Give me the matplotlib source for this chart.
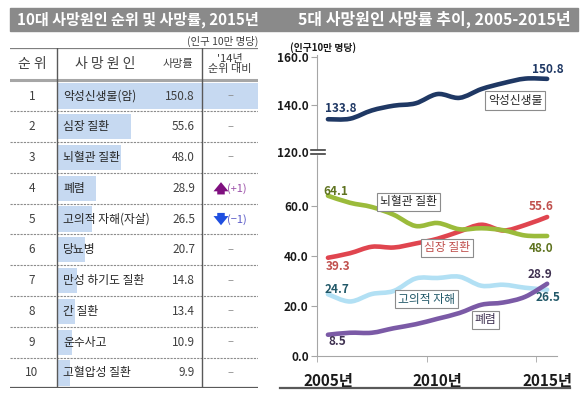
import numpy as np
import matplotlib
matplotlib.use('Agg')
import matplotlib.pyplot as plt
from matplotlib.patches import Rectangle, PathPatch
from matplotlib.path import Path

plt.rcParams['font.family'] = ['Noto Sans CJK KR', 'DejaVu Sans']

# 10대 사망원인 (2015년, 인구 10만 명당)
ranks = list(range(1, 11))
causes = ['악성신생물(암)', '심장 질환', '뇌혈관 질환', '폐렴', '고의적 자해(자살)',
          '당뇨병', '만성 하기도 질환', '간 질환', '운수사고', '고혈압성 질환']
rates_2015 = [150.8, 55.6, 48.0, 28.9, 26.5, 20.7, 14.8, 13.4, 10.9, 9.9]
rank_change = ['–', '–', '–', '(+1)', '(−1)', '–', '–', '–', '–', '–']

# 5대 사망원인 사망률 추이 (2005-2015)
years = list(range(2005, 2016))
cancer = [133.8, 134.0, 137.5, 139.5, 140.5, 144.4, 142.8, 146.5, 149.0, 150.9, 150.8]
heart = [39.3, 41.1, 43.7, 43.4, 45.0, 46.9, 49.8, 52.5, 50.2, 52.4, 55.6]
cerebro = [64.1, 61.3, 59.6, 56.5, 52.0, 53.2, 50.7, 51.1, 50.3, 48.2, 48.0]
suicide = [24.7, 21.8, 24.8, 26.0, 31.0, 31.2, 31.7, 28.1, 28.5, 27.3, 26.5]
pneumonia = [8.5, 9.3, 9.3, 11.1, 12.7, 14.9, 17.2, 20.5, 21.4, 23.7, 28.9]
year_labels = ['2005년', '2010년', '2015년']

W, H = 586, 401


def box(x0, y0, x1, y1):
    # 픽셀 좌표 -> figure 좌표
    return [x0 / W, 1 - y1 / H, (x1 - x0) / W, (y1 - y0) / H]


def smooth_path(xs, ys):
    # 엑셀 '부드러운 선' 흉내 (Catmull-Rom -> Bezier)
    pts = np.column_stack([xs, ys]).astype(float)
    ext = np.vstack([pts[0], pts, pts[-1]])
    verts = [pts[0]]
    codes = [Path.MOVETO]
    for i in range(len(pts) - 1):
        p0, p1, p2, p3 = ext[i], ext[i + 1], ext[i + 2], ext[i + 3]
        verts += [p1 + (p2 - p0) / 6, p2 - (p3 - p1) / 6, p2]
        codes += [Path.CURVE4] * 3
    return Path(verts, codes)


fig = plt.figure(figsize=(W / 100, H / 100), dpi=100)

# 제목 띠
fig.patches.append(Rectangle((10 / W, 1 - 31 / H), 568 / W, 23 / H,
                             transform=fig.transFigure, color='#8a8a8a', zorder=0))
fig.text(17 / W, 1 - 19.5 / H, '10대 사망원인 순위 및 사망률, 2015년', color='white',
         fontsize=10.9, fontweight='bold', va='center', ha='left')
fig.text(298 / W, 1 - 19.5 / H, '5대 사망원인 사망률 추이, 2005-2015년', color='white',
         fontsize=11.5, fontweight='bold', va='center', ha='left')

# ---------------- 왼쪽 표 ----------------
max_rate = max(rates_2015)


def col(px):
    return (px - 57) / (258 - 57) * max_rate


ax_t = fig.add_axes(box(10, 48, 258, 388))
ax_t.set_xlim(col(10), col(258))
ax_t.set_ylim(10.49, -0.56)
ax_t.axis('off')

ax_t.barh(ranks, rates_2015, left=0, height=0.82, color='#c6d9f1', zorder=1)

txt = '#404040'
ax_t.text(col(32), -0.04, '순 위', ha='center', va='center', fontsize=10, color=txt)
ax_t.text(col(105), -0.04, '사 망 원 인', ha='center', va='center', fontsize=10, color=txt)
ax_t.text(col(178), -0.04, '사망률', ha='center', va='center', fontsize=8, color=txt)
ax_t.text(col(230), -0.04, "'14년\n순위 대비", ha='center', va='center', fontsize=8,
          color=txt, linespacing=1.0)

arrow_style = 'simple,head_width=0.9,head_length=0.55,tail_width=0.45'
for r, c, v, ch in zip(ranks, causes, rates_2015, rank_change):
    ax_t.text(col(32), r, str(r), ha='center', va='center', fontsize=8.5, color=txt, zorder=3)
    ax_t.text(col(63), r, c, ha='left', va='center', fontsize=8.5, color='#262626', zorder=3)
    ax_t.text(col(195), r, f'{v:.1f}', ha='right', va='center', fontsize=8.5, color=txt, zorder=3)
    if ch == '(+1)':
        ax_t.annotate('', xy=(col(221), r - 0.2), xytext=(col(221), r + 0.2),
                      arrowprops=dict(arrowstyle=arrow_style, color='#7f0f7f', lw=0,
                                      mutation_scale=12, shrinkA=0, shrinkB=0))
        ax_t.text(col(227), r, ch, ha='left', va='center', fontsize=8, color='#9b4fa8')
    elif ch == '(−1)':
        ax_t.annotate('', xy=(col(221), r + 0.2), xytext=(col(221), r - 0.2),
                      arrowprops=dict(arrowstyle=arrow_style, color='#1f4fe0', lw=0,
                                      mutation_scale=12, shrinkA=0, shrinkB=0))
        ax_t.text(col(227), r, ch, ha='left', va='center', fontsize=8, color='#5a5ac8')
    else:
        ax_t.text(col(230), r, ch, ha='center', va='center', fontsize=8, color='#8c8c8c')

ax_t.axhline(-0.56, color='#7f7f7f', lw=1.6, zorder=4)
ax_t.axhline(0.48, color='#a6a6a6', lw=2.2, zorder=4)
for r in ranks[:-1]:
    ax_t.axhline(r + 0.5, color='#8c8c8c', lw=0.8, ls=(0, (2, 1)), zorder=4)
ax_t.axhline(10.49, color='#595959', lw=1.6, zorder=4)
ax_t.axvline(col(57), color='#595959', lw=1.0, zorder=4)
ax_t.axvline(col(202), color='#595959', lw=1.0, zorder=4)

fig.text(258 / W, 1 - 41 / H, '(인구 10만 명당)', ha='right', va='center', fontsize=7.5, color=txt)

# ---------------- 오른쪽 추이 그래프 ----------------
ax_hi = fig.add_axes(box(317, 55, 557, 152))
ax_lo = fig.add_axes(box(317, 152, 557, 356))
ax_hi.set_ylim(120, 120 + 97 / 2.375)
ax_lo.set_ylim(0, 204 / 2.5)
spine_c = '#a6a6a6'
for ax in (ax_hi, ax_lo):
    ax.set_xlim(2004.5, 2015.45)
    ax.set_facecolor('none')
    for s in ('top', 'right'):
        ax.spines[s].set_visible(False)
    ax.spines['left'].set_color(spine_c)
    ax.tick_params(axis='y', length=4, color=spine_c, pad=2, labelsize=8.5, labelcolor='#1a1a1a')
ax_hi.spines['bottom'].set_visible(False)
ax_hi.set_xticks([])
ax_lo.spines['bottom'].set_color(spine_c)

ax_hi.set_yticks([120, 140, 160])
ax_lo.set_yticks([0, 20, 40, 60])
for ax in (ax_hi, ax_lo):
    ax.set_yticklabels([f'{t:.1f}' for t in ax.get_yticks()], fontweight='bold')

ax_lo.set_xticks([2005, 2010, 2015])
ax_lo.set_xticklabels(year_labels, fontweight='bold')
ax_lo.tick_params(axis='x', which='major', length=0, pad=12, labelsize=11, labelcolor='#1a1a1a')
ax_lo.set_xticks([2004.5, 2009.5, 2014.5], minor=True)
ax_lo.tick_params(axis='x', which='minor', length=4, color=spine_c)

# (축, 값, 선 색, 라벨 색, [시작/끝 라벨 오프셋(px)])
series = [
    (ax_hi, cancer, '#1f3864', '#1f3864', [(13, 11), (1, 9)]),
    (ax_lo, heart, '#e0454f', '#c0504d', [(10, -9), (-6, 11)]),
    (ax_lo, cerebro, '#9bbb3b', '#5f7320', [(8, 4), (-6, -13)]),
    (ax_lo, suicide, '#b2e0f4', '#215868', [(9, 5), (1, -8)]),
    (ax_lo, pneumonia, '#7b5aa6', '#3f3151', [(9, -7), (-7, 9)]),
]
for ax, vals, lc, tc, offs in series:
    ax.add_patch(PathPatch(smooth_path(years, vals), fill=False, edgecolor=lc, lw=3.3,
                           capstyle='round', joinstyle='round', zorder=3))
    for idx, off in zip((0, -1), offs):
        ax.annotate(f'{vals[idx]:.1f}', xy=(years[idx], vals[idx]), xytext=off,
                    textcoords='offset pixels', ha='center', va='center', fontsize=8.5,
                    fontweight='bold', color=tc, zorder=5, annotation_clip=False)

bbox = dict(boxstyle='square,pad=0.25', fc='white', ec='#8c8c8c', lw=0.8)
ax_hi.text(2013.55, 141.5, '악성신생물', ha='center', va='center', fontsize=8.5,
           color='#262626', bbox=bbox, zorder=6)
ax_lo.text(2008.68, 61.6, '뇌혈관 질환', ha='center', va='center', fontsize=8.5,
           color='#262626', bbox=bbox, zorder=6)
ax_lo.text(2010.45, 43.2, '심장 질환', ha='center', va='center', fontsize=8.5,
           color='#c0504d', bbox=bbox, zorder=6)
ax_lo.text(2009.5, 22.8, '고의적 자해', ha='center', va='center', fontsize=8.5,
           color='#215868', bbox=bbox, zorder=6)
ax_lo.text(2012.18, 14.4, '폐렴', ha='center', va='center', fontsize=8.5,
           color='#3f3151', bbox=bbox, zorder=6)

# 축 생략 표시 (=)
ax_lo.add_patch(Rectangle((-0.03, 0.99), 0.07, 0.022, transform=ax_lo.transAxes,
                          color='white', clip_on=False, zorder=7))
for yy in (0.99, 1.012):
    ax_lo.plot([-0.025, 0.033], [yy, yy], transform=ax_lo.transAxes, color='#404040',
               lw=1.2, clip_on=False, zorder=8)

fig.text(290 / W, 1 - 48 / H, '(인구10만 명당)', ha='left', va='center', fontsize=7,
         fontweight='bold', color='#1a1a1a')

# 아래 구분선
fig.add_artist(plt.Line2D([280 / W, 570 / W], [1 - 388 / H, 1 - 388 / H],
                          transform=fig.transFigure, color='#595959', lw=1.6))

fig.savefig('out.png', dpi=100)
